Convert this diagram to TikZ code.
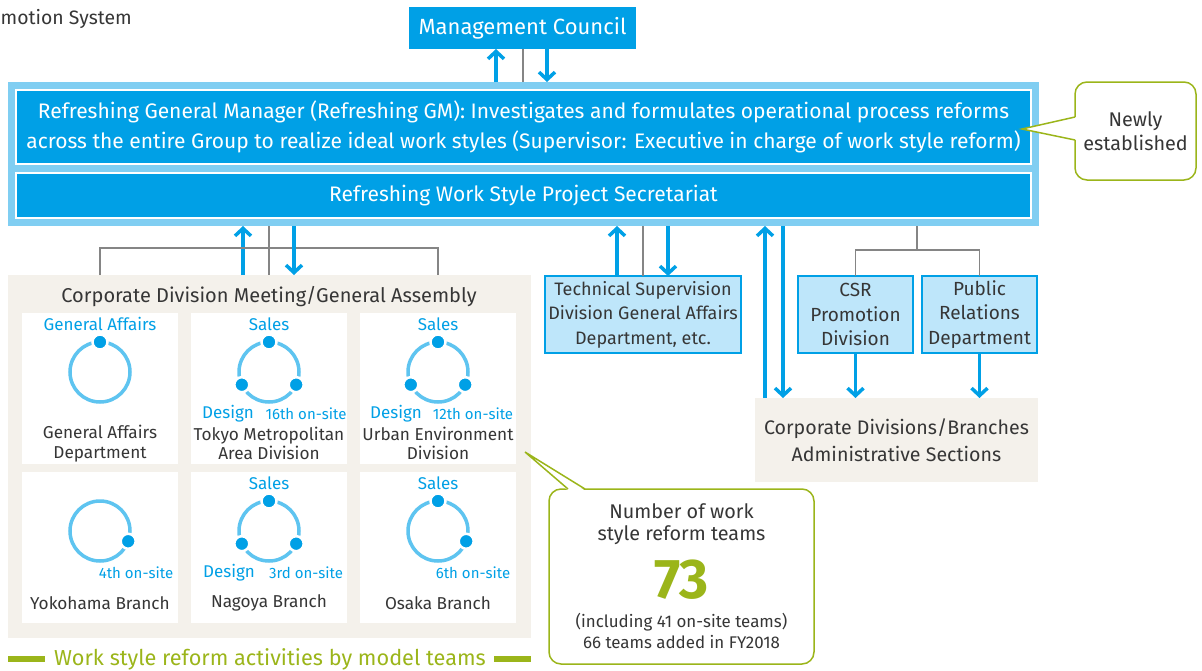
\documentclass[tikz,border=0pt]{standalone}
\usepackage{fontspec}
\setmainfont{Fira Sans}
\usetikzlibrary{arrows.meta,calc}
\definecolor{mblue}{HTML}{00A0E6}
\definecolor{lblue}{HTML}{80CEF2}
\definecolor{pblue}{HTML}{BEE6FA}
\definecolor{ringc}{HTML}{5EC4F0}
\definecolor{beige}{HTML}{F4F1EB}
\definecolor{lgreen}{HTML}{9BB51A}
\definecolor{txt}{HTML}{363636}
\definecolor{gline}{HTML}{858585}
\newcommand\fsz[2]{\fontsize{#1}{#2}\selectfont}
\newcommand\teamring[2]{%
  \draw[ringc, line width=3.5pt] (#1) circle[radius=30];
  \foreach \a in {#2} \fill[mblue, draw=white, line width=2.5pt] (#1) ++(\a:30) circle[radius=7.5];}
\begin{document}
\begin{tikzpicture}[x=1pt,y=-1pt,
  box/.style={anchor=north west, inner sep=0pt, outer sep=0pt, align=center},
  arr/.style={draw=mblue, line width=3.5pt, -{Straight Barb[length=7.5pt,width=16pt]}},
  gl/.style={draw=gline, line width=1.4pt},
  bluelbl/.style={text=mblue, font=\fsz{17}{20}, inner sep=0pt},
  sitelbl/.style={text=mblue, font=\fsz{15}{18}, inner sep=0pt},
  namelbl/.style={text=txt, font=\fsz{17.2}{19.5}, align=center, inner sep=0pt},
  cell/.style={box, fill=white, minimum width=156pt, minimum height=151pt},
  pbox/.style={box, fill=pblue, draw=mblue, line width=2.5pt, text=txt, minimum height=77pt},
  callout/.style={box, draw=lgreen, fill=white, rounded corners=12pt, line width=1.5pt}]
\useasboundingbox (0,0) rectangle (1202,670);

% title
\node[anchor=west, text=txt, font=\fsz{19.4}{22}, inner sep=0pt] (ttl) at (0.5,19) {motion System};

% management council
\node[box, fill=mblue, minimum width=227pt, minimum height=42pt, text=white, font=\fsz{22}{24}] (mc) at (409,7) {Management Council};

% outer block
\node[box, fill=lblue, minimum width=1031pt, minimum height=144pt] (outer) at (8,82) {};
\node[box, fill=mblue, draw=white, line width=1.2pt, minimum width=1015pt, minimum height=74pt, text=white, font=\fsz{21}{30}] (gm) at (16,90)
  {Refreshing General Manager (Refreshing GM): Investigates and formulates operational process reforms\\across the entire Group to realize ideal work styles (Supervisor: Executive in charge of work style reform)};
\node[box, fill=mblue, draw=white, line width=1.2pt, minimum width=1015pt, minimum height=45pt, text=white, font=\fsz{21}{24}] (sec) at (16,173)
  {Refreshing Work Style Project Secretariat};

% newly established callout
\node[callout, minimum width=121pt, minimum height=98pt, text=txt, font=\fsz{19.8}{24}] (newly) at (1075,82) {Newly\\established};
\coordinate (ntip) at (1022,129);
\fill[white] ($(newly.west)+(1.5,-14)$) -- (ntip) -- ($(newly.west)+(1.5,9)$) -- cycle;
\draw[lgreen, line width=1.5pt] ($(newly.west)+(0,-14)$) -- (ntip) -- ($(newly.west)+(0,9)$);

% x positions
\coordinate (x496) at (496,0);
\coordinate (x523) at (523,0);
\coordinate (x547) at (547,0);
\coordinate (x243) at (243,0);
\coordinate (x269) at (269,0);
\coordinate (x294) at (294,0);
\coordinate (x617) at (617,0);
\coordinate (x643) at (643,0);
\coordinate (x668) at (668,0);
\coordinate (x765) at (765,0);
\coordinate (x783) at (783,0);
\coordinate (x917) at (917,0);

% connectors to management council
\draw[arr] (outer.north -| x496) -- (mc.south -| x496);
\draw[gl] (mc.south -| x523) -- (outer.north -| x523);
\draw[arr] (mc.south -| x547) -- (outer.north -| x547);

% left beige block
\node[box, fill=beige, minimum width=523pt, minimum height=363pt] (meet) at (8,275) {};
\node[text=txt, font=\fsz{20}{22}, inner sep=0pt] (meett) at (269,297) {Corporate Division Meeting/General Assembly};
\node[cell] (c1) at (22,313) {};
\node[cell] (c2) at (191,313) {};
\node[cell] (c3) at (360,313) {};
\node[cell] (c4) at (22,472) {};
\node[cell] (c5) at (191,472) {};
\node[cell] (c6) at (360,472) {};

% left connectors
\draw[arr] (meet.north -| x243) -- (outer.south -| x243);
\draw[gl] (outer.south -| x269) -- (meet.north -| x269);
\draw[gl] (meet.north -| c1.north) -- ++(0,-27) -| (meet.north -| c3.north);
\draw[arr] (outer.south -| x294) -- (meet.north -| x294);

% rings
\coordinate (r1) at (100,372);
\coordinate (r2) at (269,372);
\coordinate (r3) at (438,372);
\coordinate (r4) at (100,531);
\coordinate (r5) at (269,531);
\coordinate (r6) at (438,531);
\teamring{r1}{270}
\teamring{r2}{270,155,25}
\teamring{r3}{270,155,25}
\teamring{r4}{20}
\teamring{r5}{270,155,25}
\teamring{r6}{270,20}

% cell labels
\node[bluelbl] (l1) at (100,324) {General Affairs};
\node[namelbl] (n1) at (100,443.5) {General Affairs\\Department};
\node[bluelbl] (l2) at (269,324) {Sales};
\node[bluelbl] (d2) at (228,414) {Design};
\node[sitelbl] (o2) at (306,414) {16th on-site};
\node[namelbl] (n2) at (269,443.5) {Tokyo Metropolitan\\Area Division};
\node[bluelbl] (l3) at (438,324) {Sales};
\node[bluelbl] (d3) at (396,414) {Design};
\node[sitelbl] (o3) at (473,414) {12th on-site};
\node[namelbl] (n3) at (438,443.5) {Urban Environment\\Division};
\node[sitelbl] (o4) at (136,573) {4th on-site};
\node[namelbl] (n4) at (100,603) {Yokohama Branch};
\node[bluelbl] (l5) at (269,483) {Sales};
\node[bluelbl] (d5) at (229,573) {Design};
\node[sitelbl] (o5) at (306,573) {3rd on-site};
\node[namelbl] (n5) at (269,603) {Nagoya Branch};
\node[bluelbl] (l6) at (438,483) {Sales};
\node[sitelbl] (o6) at (473,573) {6th on-site};
\node[namelbl] (n6) at (438,603) {Osaka Branch};

% bottom label
\node[text=lgreen, font=\fsz{21.7}{24}, inner sep=0pt] (wsr) at (270,659) {Work style reform activities by model teams};
\fill[lgreen] (8,656) rectangle (45,662);
\fill[lgreen] (494,656) rectangle (531,662);

% technical supervision
\node[pbox, minimum width=196pt, font=\fsz{18}{24.5}] (tech) at (545,276) {Technical Supervision\\Division General Affairs\\Department, etc.};
\draw[arr] (tech.north -| x617) -- (outer.south -| x617);
\draw[gl] (outer.south -| x643) -- (tech.north -| x643);
\draw[arr] (outer.south -| x668) -- (tech.north -| x668);

% CSR and PR
\node[pbox, minimum width=115pt, font=\fsz{19}{24.5}] (csr) at (798,276) {CSR\\Promotion\\Division};
\node[pbox, minimum width=115pt, font=\fsz{19}{24.5}] (pr) at (922,276) {Public\\Relations\\Department};
\draw[gl] (outer.south -| x917) -- ++(0,24);
\draw[gl] (csr.north) -- ++(0,-26) -| (pr.north);

% corporate divisions
\node[box, fill=beige, minimum width=283pt, minimum height=84pt, text=txt, font=\fsz{19.6}{27}] (corp) at (755,398) {Corporate Divisions/Branches\\Administrative Sections};
\draw[arr] (corp.north -| x765) -- (outer.south -| x765);
\draw[arr] (outer.south -| x783) -- (corp.north -| x783);
\draw[arr] (csr.south) -- (corp.north -| csr.south);
\draw[arr] (pr.south) -- (corp.north -| pr.south);

% number callout
\node[callout, minimum width=265pt, minimum height=175pt] (num) at (549,489) {};
\coordinate (ptip) at (525,452);
\fill[white] ($(num.north west)+(19,1.5)$) -- (ptip) -- ($(num.north west)+(36,1.5)$) -- cycle;
\draw[lgreen, line width=1.5pt] ($(num.north west)+(19,0)$) -- (ptip) -- ($(num.north west)+(36,0)$);
\node[text=txt, font=\fsz{19.8}{22}, align=center, inner sep=0pt] (numt) at (681.5,524) {Number of work\\style reform teams};
\node[text=lgreen, font=\fsz{56}{58}\bfseries, inner sep=0pt] (numv) at (681.5,580) {73};
\node[text=txt, font=\fsz{16.9}{21}, align=center, inner sep=0pt] (numn) at (681.5,630.5) {(including 41 on-site teams)\\66 teams added in FY2018};
\end{tikzpicture}
\end{document}
